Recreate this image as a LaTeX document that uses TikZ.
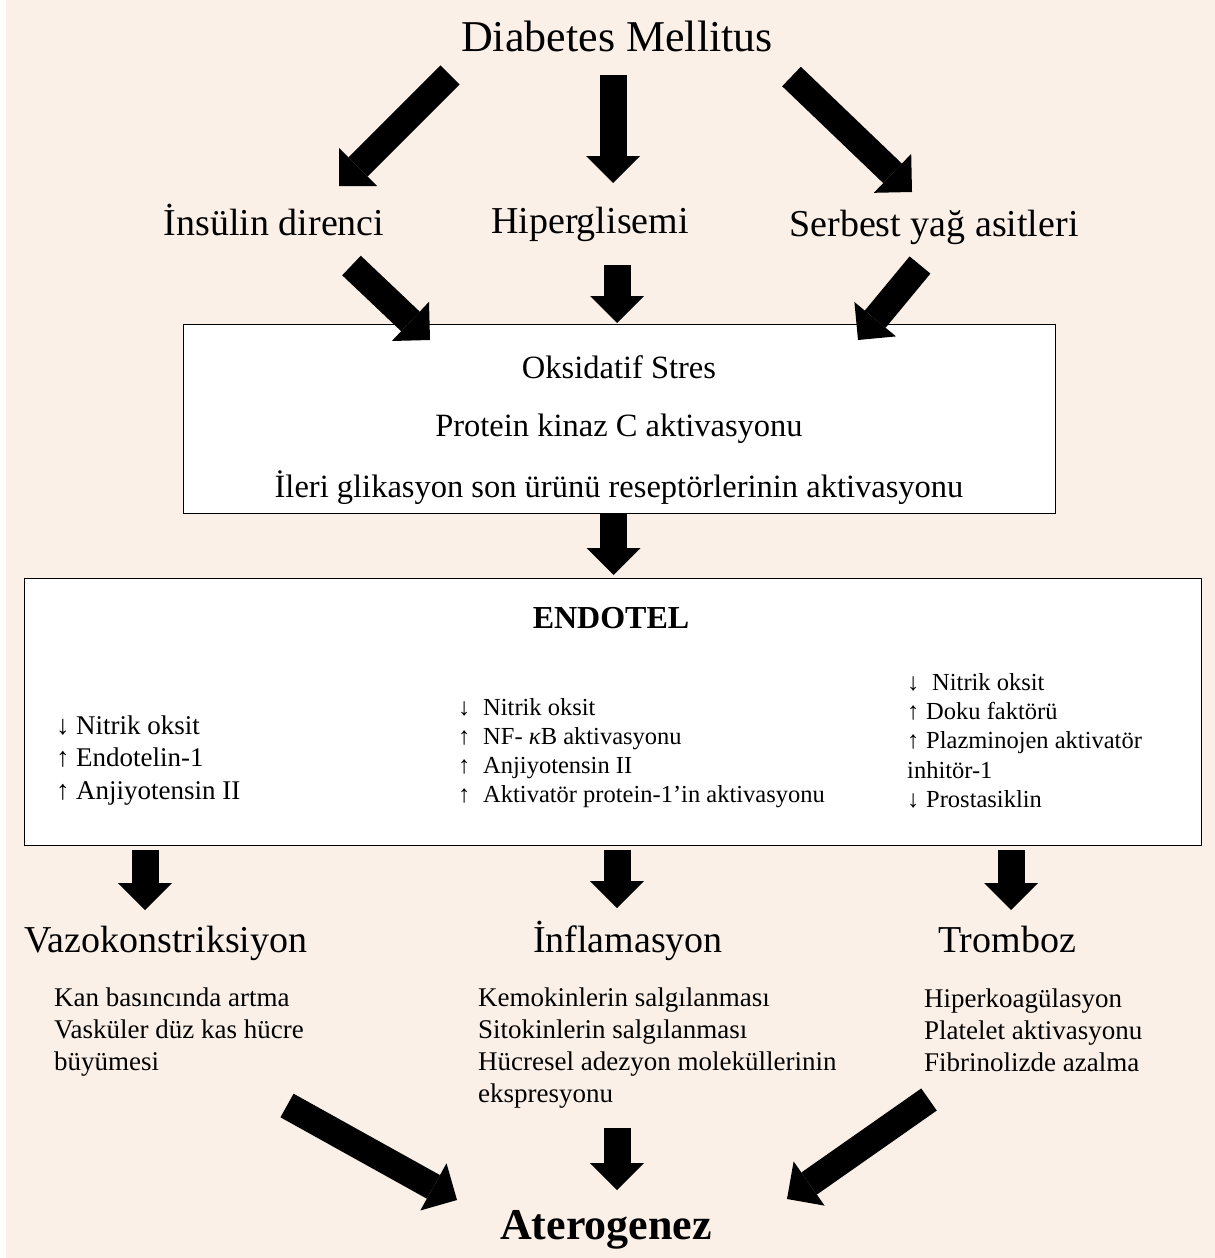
\documentclass[tikz,border=0pt]{standalone}
\usepackage{fontspec}
\setmainfont{Liberation Serif}
\usetikzlibrary{arrows.meta}
\definecolor{bgpeach}{RGB}{251,240,232}
\begin{document}
\begin{tikzpicture}[x=1pt,y=-1pt,
  bigarrow/.style={line width=27pt,-{Triangle[width=54pt,length=27pt,line width=0pt]}},
  boxstyle/.style={draw=black,line width=1.3pt,fill=white,inner sep=0pt,anchor=north west},
  title/.style={font=\fontsize{44}{50}\selectfont,inner sep=0pt,anchor=base},
  boldtitle/.style={font=\fontsize{44}{50}\selectfont\bfseries,inner sep=0pt,anchor=base},
  midtext/.style={font=\fontsize{38}{44}\selectfont,inner sep=0pt,anchor=base},
  boxtext/.style={font=\fontsize{32.5}{38}\selectfont,inner sep=0pt,anchor=base},
  endotel/.style={font=\fontsize{32}{38}\selectfont\bfseries,inner sep=0pt,anchor=base},
  lcol/.style={font=\fontsize{27}{32}\selectfont,inner sep=0pt,anchor=base west},
  ccol/.style={font=\fontsize{24.5}{29}\selectfont,inner sep=0pt,anchor=base west},
  subtext/.style={font=\fontsize{27}{32}\selectfont,inner sep=0pt,anchor=base west}]
\useasboundingbox (0,0) rectangle (1215,1258);
\fill[bgpeach] (6,0) rectangle (1215,1258);

% top
\node[title] (dm) at (617,51) {Diabetes Mellitus};
\node[midtext] (ins) at (274,235) {İnsülin direnci};
\node[midtext] (hip) at (590,233) {Hiperglisemi};
\node[midtext] (sya) at (934,236) {Serbest yağ asitleri};

% box 1
\node[boxstyle,minimum width=872pt,minimum height=189pt] (box1) at (183,324) {};
\node[boxtext] (ox) at (619,378) {Oksidatif Stres};
\node[boxtext] (pkc) at (619,436) {Protein kinaz C aktivasyonu};
\node[boxtext] (age) at (619,497) {İleri glikasyon son ürünü reseptörlerinin aktivasyonu};

% box 2
\node[boxstyle,minimum width=1177pt,minimum height=267pt] (box2) at (24,578) {};
\node[endotel] (endo) at (611,628) {ENDOTEL};

\node[lcol] (l1) at (56,734) {\makebox[20pt][l]{↓}Nitrik oksit};
\node[lcol] (l2) at (56,766) {\makebox[20pt][l]{↑}Endotelin-1};
\node[lcol] (l3) at (56,799) {\makebox[20pt][l]{↑}Anjiyotensin II};

\node[ccol] (c1) at (458,715) {\makebox[25pt][l]{↓}Nitrik oksit};
\node[ccol] (c2) at (458,744) {\makebox[25pt][l]{↑}NF- \textit{κ}B aktivasyonu};
\node[ccol] (c3) at (458,773) {\makebox[25pt][l]{↑}Anjiyotensin II};
\node[ccol] (c4) at (458,802) {\makebox[25pt][l]{↑}Aktivatör protein-1’in aktivasyonu};

\node[ccol] (r1) at (907,690) {\makebox[25pt][l]{↓}Nitrik oksit};
\node[ccol] (r2) at (907,719) {\makebox[19pt][l]{↑}Doku faktörü};
\node[ccol] (r3) at (907,748) {\makebox[19pt][l]{↑}Plazminojen aktivatör};
\node[ccol] (r4) at (907,778) {inhitör-1};
\node[ccol] (r5) at (907,807) {\makebox[19pt][l]{↓}Prostasiklin};

% outcomes
\node[midtext] (vaz) at (166,952) {Vazokonstriksiyon};
\node[midtext] (inf) at (628,952) {İnflamasyon};
\node[midtext] (tro) at (1007,952) {Tromboz};

\node[subtext] (v1) at (54,1006) {Kan basıncında artma};
\node[subtext] (v2) at (54,1038) {Vasküler düz kas hücre};
\node[subtext] (v3) at (54,1070) {büyümesi};

\node[subtext] (i1) at (478,1006) {Kemokinlerin salgılanması};
\node[subtext] (i2) at (478,1038) {Sitokinlerin salgılanması};
\node[subtext] (i3) at (478,1070) {Hücresel adezyon moleküllerinin};
\node[subtext] (i4) at (478,1102) {ekspresyonu};

\node[subtext] (t1) at (924,1007) {Hiperkoagülasyon};
\node[subtext] (t2) at (924,1039) {Platelet aktivasyonu};
\node[subtext] (t3) at (924,1071) {Fibrinolizde azalma};

\node[boldtitle] (ath) at (606,1239) {Aterogenez};

% arrow coordinates
\coordinate (a1s) at (450,75);    \coordinate (a1e) at (339,186);
\coordinate (a2s) at (613,75);    \coordinate (a2e) at (613,183);
\coordinate (a3s) at (791.5,76.5);\coordinate (a3e) at (912,192);
\coordinate (b1s) at (351.5,265.5);\coordinate (b1e) at (430,340);
\coordinate (b2s) at (617,265);   \coordinate (b2e) at (617,323);
\coordinate (b3s) at (920,265);   \coordinate (b3e) at (858,340);
\coordinate (cs) at (613.5,513);  \coordinate (ce) at (613.5,575);
\coordinate (d1s) at (145,850);   \coordinate (d1e) at (145,910);
\coordinate (d2s) at (617,850);   \coordinate (d2e) at (617,908);
\coordinate (d3s) at (1011,850);  \coordinate (d3e) at (1011,910);
\coordinate (e1s) at (287,1105.5);\coordinate (e1e) at (457,1200);
\coordinate (e2s) at (617,1128);  \coordinate (e2e) at (617,1190);
\coordinate (e3s) at (929,1099.5);\coordinate (e3e) at (787,1199);

\foreach \p in {a1,a2,a3,b1,b2,b3,c,d1,d2,d3,e1,e2,e3}
  \draw[bigarrow] (\p s) -- (\p e);
\end{tikzpicture}
\end{document}
